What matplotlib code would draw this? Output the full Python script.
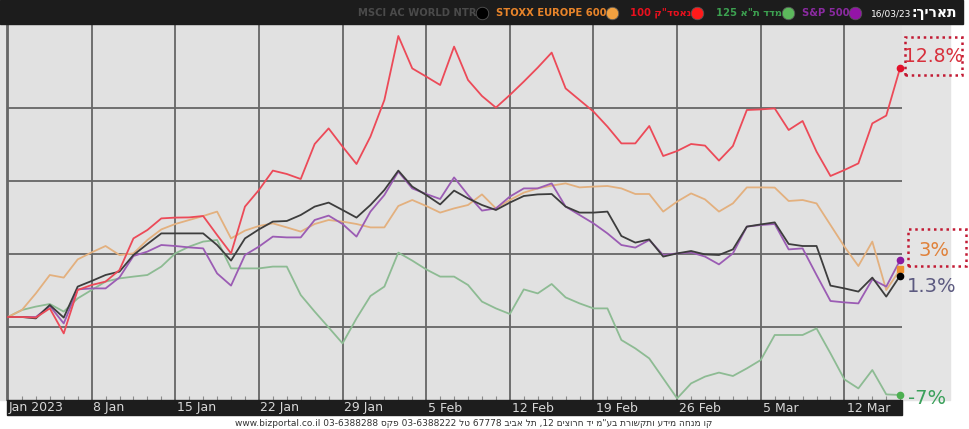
import re
import numpy as np
import matplotlib
matplotlib.use("Agg")
import matplotlib.pyplot as plt
from matplotlib.patches import Rectangle
from matplotlib import font_manager

# =========================
# data (percent change since start, 6 samples per week)
# =========================
nasdaq100 = [0.0, 0.0, -0.03, 0.43, -0.82, 1.35, 1.6, 1.77, 2.35, 3.93,
             4.35, 4.93, 4.97, 4.98, 5.05, 4.1, 3.18, 5.52, 6.35, 7.32,
             7.15, 6.9, 8.65, 9.43, 8.52, 7.65, 9.02, 10.85, 14.05, 12.43,
             12.02, 11.6, 13.52, 11.85, 11.05, 10.47, 11.1, 11.77, 12.47, 13.22,
             11.43, 10.85, 10.27, 9.52, 8.68, 8.68, 9.55, 8.05, 8.3, 8.65,
             8.57, 7.82, 8.55, 10.35, 10.38, 10.43, 9.35, 9.8, 8.27, 7.05,
             7.35, 7.68, 9.68, 10.07, 12.47]
msci_world = [0.0, 0.0, -0.07, 0.6, -0.03, 1.52, 1.8, 2.1, 2.27, 3.1,
              3.65, 4.18, 4.18, 4.18, 4.18, 3.6, 2.82, 3.93, 4.38, 4.77,
              4.8, 5.1, 5.52, 5.72, 5.35, 4.97, 5.6, 6.35, 7.32, 6.52,
              6.1, 5.63, 6.32, 5.93, 5.6, 5.35, 5.72, 6.05, 6.13, 6.15,
              5.52, 5.22, 5.22, 5.27, 4.05, 3.72, 3.88, 3.02, 3.18, 3.3,
              3.13, 3.1, 3.38, 4.52, 4.63, 4.73, 3.65, 3.55, 3.55, 1.57,
              1.43, 1.27, 1.97, 1.02, 2.07]
stoxx600 = [0.0, 0.35, 1.18, 2.1, 1.97, 2.88, 3.23, 3.55, 3.1, 3.18,
            3.85, 4.38, 4.65, 4.85, 5.05, 5.27, 3.93, 4.32, 4.55, 4.68,
            4.48, 4.27, 4.65, 4.85, 4.77, 4.65, 4.48, 4.48, 5.55, 5.85,
            5.55, 5.22, 5.43, 5.6, 6.13, 5.43, 5.85, 6.22, 6.43, 6.57,
            6.68, 6.48, 6.52, 6.55, 6.43, 6.15, 6.15, 5.27, 5.77, 6.18,
            5.88, 5.27, 5.68, 6.48, 6.48, 6.47, 5.8, 5.85, 5.68, 4.6,
            3.52, 2.55, 3.77, 1.35, 2.38]
sp500 = [0.0, 0.0, 0.0, 0.55, -0.32, 1.38, 1.43, 1.43, 1.98, 3.05,
         3.27, 3.6, 3.55, 3.48, 3.43, 2.18, 1.57, 3.1, 3.52, 4.02,
         3.98, 3.98, 4.85, 5.07, 4.65, 4.02, 5.27, 6.1, 7.27, 6.43,
         6.15, 5.9, 6.98, 6.1, 5.32, 5.43, 6.02, 6.43, 6.43, 6.68,
         5.52, 5.1, 4.68, 4.18, 3.6, 3.47, 3.85, 3.1, 3.18, 3.23,
         3.02, 2.63, 3.18, 4.52, 4.6, 4.65, 3.38, 3.43, 2.1, 0.8,
         0.73, 0.68, 1.88, 1.52, 2.85]
ta125 = [0.0, 0.35, 0.52, 0.65, 0.27, 0.93, 1.35, 1.77, 1.93, 2.02,
         2.1, 2.52, 3.18, 3.52, 3.77, 3.85, 2.43, 2.43, 2.43, 2.52,
         2.52, 1.1, 0.27, -0.52, -1.32, -0.07, 1.05, 1.52, 3.22, 2.82,
         2.38, 2.02, 2.02, 1.6, 0.77, 0.43, 0.15, 1.38, 1.18, 1.65,
         0.98, 0.68, 0.43, 0.43, -1.15, -1.57, -2.07, -3.07, -4.07, -3.32,
         -2.98, -2.78, -2.95, -2.57, -2.15, -0.9, -0.9, -0.9, -0.57, -1.82,
         -3.12, -3.57, -2.65, -3.87, -3.9]

week_labels = ["Jan 2023", "8 Jan", "15 Jan", "22 Jan", "29 Jan", "5 Feb",
               "12 Feb", "19 Feb", "26 Feb", "5 Mar", "12 Mar"]
grid_levels = [-0.48, 3.15, 6.8, 10.43]

end_labels = ["12.8%", "3%", "1.3%", "-7%"]
footer = 'קו מנחה מידע ותקשורת בע"מ יד חרוצים 12, תל אביב 67778 טל 03-6388222 פקס 03-6388288 www.bizportal.co.il'

# narrow font if there is one, otherwise DejaVu
names = {f.name for f in font_manager.fontManager.ttflist}
narrow = ["Liberation Sans Narrow", "DejaVu Sans"] if "Liberation Sans Narrow" in names else ["DejaVu Sans"]
legend_size = 8.5 if "Liberation Sans Narrow" in names else 7.2
axis_size = 10 if "Liberation Sans Narrow" in names else 9


def heb(s):
    # matplotlib has no bidi: flip the string, then flip back the LTR runs
    r = s[::-1]
    return re.sub(r"[A-Za-z0-9][A-Za-z0-9.\-/]*[A-Za-z0-9]|[A-Za-z0-9]",
                  lambda m: m.group(0)[::-1], r)


W, H = 969, 429


def fx(x):
    return x / W


def fy(y):
    return 1 - y / H


fig = plt.figure(figsize=(W / 100, H / 100), dpi=100, facecolor="white")

# right grey panel behind annotations
fig.patches.append(Rectangle((0, fy(400)), fx(950), fy(24) - fy(400),
                             transform=fig.transFigure, color="#e4e4e4", zorder=-5))

# =========================
# plot area
# =========================
ax = fig.add_axes([fx(7), fy(400), fx(902) - fx(7), fy(24) - fy(400)])
ax.set_zorder(1)
ax.set_facecolor("#e1e1e1")
x = np.arange(len(nasdaq100))

ax.plot(x, ta125, color="#8dbb93", lw=1.3, zorder=3)
ax.plot(x, stoxx600, color="#e3b07e", lw=1.3, zorder=4)
ax.plot(x, sp500, color="#9b5cb4", lw=1.3, zorder=5)
ax.plot(x, msci_world, color="#3d3d3d", lw=1.3, zorder=6)
ax.plot(x, nasdaq100, color="#ec4a58", lw=1.3, zorder=7)

# end dots
last = len(x) - 1
ax.plot(last, nasdaq100[-1], "o", color="#e3102a", ms=4.5, zorder=9, clip_on=False)
ax.plot(last, ta125[-1], "o", color="#4caf50", ms=4.5, zorder=9, clip_on=False)
ax.plot(last, sp500[-1], "o", color="#8a1aa0", ms=4.5, zorder=9, clip_on=False)
ax.plot(last, stoxx600[-1], "s", color="#ee9030", ms=4, zorder=9, clip_on=False)
ax.plot(last, msci_world[-1], "o", color="black", ms=4.5, zorder=10, clip_on=False)

ax.set_xlim(-0.07, 64.13)
ax.set_ylim(-4.15, 14.65)
ax.set_xticks(np.arange(0, 61, 6))
ax.set_xticks(x, minor=True)
ax.set_yticks(grid_levels)
ax.grid(True, color="#666666", lw=1.3)
ax.tick_params(which="both", direction="in", colors="#8a8a8a", labelbottom=False,
               labelleft=False, left=False)
ax.tick_params(which="minor", length=3, width=0.8)
ax.tick_params(which="major", length=0)
for side in ["top", "right", "bottom"]:
    ax.spines[side].set_visible(False)
ax.spines["left"].set_color("#666666")
ax.spines["left"].set_linewidth(1.3)

# =========================
# bottom date bar
# =========================
fig.patches.append(Rectangle((fx(7), fy(415)), fx(902) - fx(7), fy(400) - fy(415),
                             transform=fig.transFigure, color="#1d1d1d", zorder=2))
for i, lab in enumerate(week_labels):
    px = 8 + 83.8 * i
    fig.text(fx(px + 1), fy(408), lab, color="#d8d8d8", fontsize=axis_size,
             family=narrow, ha="left", va="center", zorder=3)

fig.text(fx(474), fy(423), heb(footer), fontsize=6.5, color="#333333",
         ha="center", va="center")

# =========================
# top legend bar
# =========================
fig.patches.append(Rectangle((0, fy(24)), fx(963), fy(0) - fy(24),
                             transform=fig.transFigure, color="#1c1c1c", zorder=2))
legend_items = [
    ("MSCI AC WORLD NTR", "#4a4a4a", "#000000", 482),
    ("STOXX EUROPE 600", "#e8842a", "#f0a040", 612),
    (heb('נאסד"ק 100'), "#e8101e", "#ff1a1a", 697),
    (heb('מדד ת"א 125'), "#3ca050", "#5cb85c", 788),
    ("S&P 500", "#8a2aa0", "#9414a8", 855),
]
for lab, tc, cc, cx in legend_items:
    fig.text(fx(cx - 6), fy(13), lab, color=tc, fontsize=legend_size, fontweight="bold",
             family=narrow, ha="right", va="center", zorder=3)
    fig.lines.append(plt.Line2D([fx(cx)], [fy(13)], marker="o", ms=9, color=cc,
                                mec="#555555", mew=0.6, transform=fig.transFigure,
                                zorder=4))
fig.text(fx(871), fy(14), "16/03/23", color="white", fontsize=6.5,
         ha="left", va="center", zorder=3)
fig.text(fx(957), fy(13), heb("תאריך:"), color="white", fontsize=10,
         fontweight="bold", ha="right", va="center", zorder=3)

# =========================
# end annotations
# =========================
box_style = dict(transform=fig.transFigure, fill=False, ec="#c21a34",
                 lw=1.8, ls=(0, (1, 1.5)), zorder=5)
fig.patches.append(Rectangle((fx(905), fy(75)), fx(962) - fx(905), fy(37) - fy(75),
                             **box_style))
fig.text(fx(934), fy(57), end_labels[0], color="#d8303c", fontsize=13.5,
         ha="center", va="center", zorder=6)
fig.patches.append(Rectangle((fx(908), fy(266)), fx(966) - fx(908), fy(229) - fy(266),
                             **box_style))
fig.text(fx(934), fy(250), end_labels[1], color="#e0813a", fontsize=14,
         ha="center", va="center", zorder=6)
fig.text(fx(932), fy(287), end_labels[2], color="#5c5a80", fontsize=14,
         ha="center", va="center", zorder=6)
fig.text(fx(927), fy(398), end_labels[3], color="#3aa05a", fontsize=14,
         ha="center", va="center", zorder=6)

fig.savefig("out.png", dpi=100, facecolor="white")
